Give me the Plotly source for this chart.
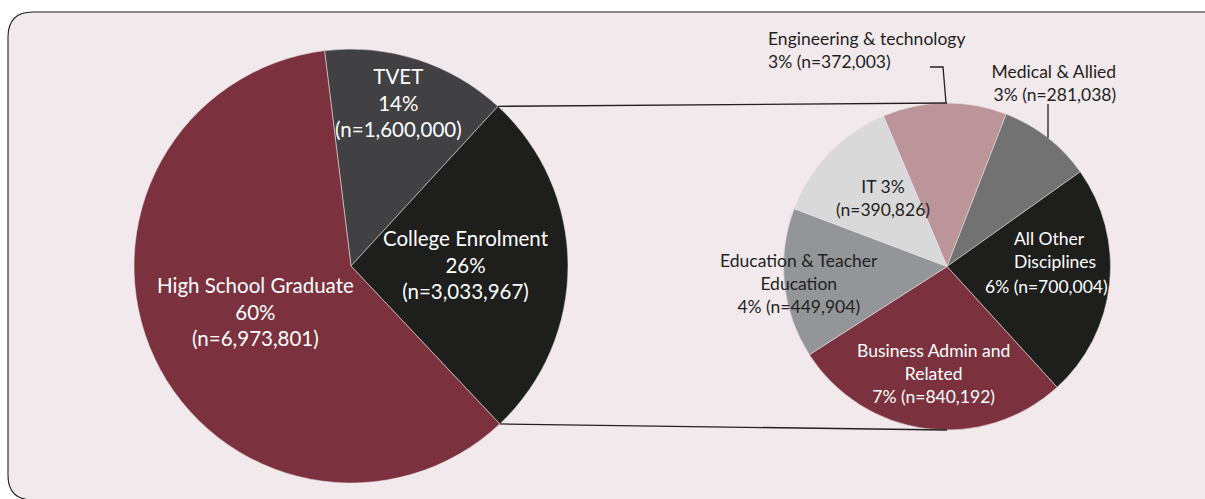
import math
import plotly.graph_objects as go

W, H = 1205, 499

# Overall pathway split
main_labels = ["TVET", "College Enrolment", "High School Graduate"]
main_values = [1600000, 3033967, 6973801]
main_pcts = ["14%", "26%", "60%"]
main_colors = ["#414042", "#1e1e1c", "#7b323e"]

# Breakdown of college enrolment by discipline
sub_labels = ["Engineering & technology", "Medical & Allied", "All Other Disciplines",
              "Business Admin and Related", "Education & Teacher Education", "IT"]
sub_values = [372003, 281038, 700004, 840192, 449904, 390826]
sub_pcts = ["3%", "3%", "6%", "7%", "4%", "3%"]
sub_colors = ["#bc959b", "#727272", "#1e1e1c", "#7b323e", "#939598", "#d9d9d9"]

FONT = "Lato"
DARK = "#231f20"
BIG = 20.5
SMALL = 17.5

# Pie geometry in pixels (centre and radius)
L_CX, L_CY, L_R = 351, 266, 217
R_CX, R_CY, R_R = 947, 266.5, 163.5
L_ROT = -7
R_ROT = -22.9


def px(x):
    return x / W


def py(y):
    return 1 - y / H


def domain(cx, cy, r):
    return dict(x=[px(cx - r), px(cx + r)], y=[py(cy + r), py(cy - r)])


def edge_point(cx, cy, r, ang):
    a = math.radians(ang)
    return cx + r * math.sin(a), cy - r * math.cos(a)


fig = go.Figure()

fig.add_trace(go.Pie(
    labels=main_labels, values=main_values, sort=False, direction="clockwise",
    rotation=L_ROT, textinfo="none", hoverinfo="label+value",
    marker=dict(colors=main_colors, line=dict(color="rgba(235,225,230,0.7)", width=0.8)),
    domain=domain(L_CX, L_CY, L_R), showlegend=False,
))

fig.add_trace(go.Pie(
    labels=sub_labels, values=sub_values, sort=False, direction="clockwise",
    rotation=R_ROT, textinfo="none", hoverinfo="label+value",
    marker=dict(colors=sub_colors, line=dict(color="rgba(235,225,230,0.7)", width=0.8)),
    domain=domain(R_CX, R_CY, R_R), showlegend=False,
))

# Rounded panel behind everything
x0, y0, x1, y1, rr = 8, 12, 1230, 500, 25
panel = (f"M {px(x0 + rr)},{py(y0)} L {px(x1)},{py(y0)} L {px(x1)},{py(y1)} "
         f"L {px(x0 + rr)},{py(y1)} Q {px(x0)},{py(y1)} {px(x0)},{py(y1 - rr)} "
         f"L {px(x0)},{py(y0 + rr)} Q {px(x0)},{py(y0)} {px(x0 + rr)},{py(y0)} Z")
shapes = [dict(type="path", path=panel, xref="paper", yref="paper",
               fillcolor="#f2e9ed", line=dict(color=DARK, width=1.1), layer="below")]

# Connector lines from the college slice edges to the breakdown pie
total = sum(main_values)
a_start = L_ROT + 360 * main_values[0] / total
a_end = a_start + 360 * main_values[1] / total
p1 = edge_point(L_CX, L_CY, L_R, a_start)
p2 = edge_point(L_CX, L_CY, L_R, a_end)
q1 = (R_CX, R_CY - R_R)
q2 = (R_CX, R_CY + R_R)
for a, b in [(p1, q1), (p2, q2)]:
    shapes.append(dict(type="line", xref="paper", yref="paper",
                       x0=px(a[0]), y0=py(a[1]), x1=px(b[0]), y1=py(b[1]),
                       line=dict(color=DARK, width=1.3)))

# Leader lines for the two small slices
shapes.append(dict(type="path", xref="paper", yref="paper",
                   path=f"M {px(930)},{py(67)} L {px(943)},{py(67)} L {px(946)},{py(103)}",
                   line=dict(color=DARK, width=1.3)))
med_x = 1048
med_y_end = R_CY - math.sqrt(R_R ** 2 - (med_x - R_CX) ** 2)
shapes.append(dict(type="line", xref="paper", yref="paper",
                   x0=px(med_x), y0=py(104), x1=px(med_x), y1=py(med_y_end),
                   line=dict(color=DARK, width=1.3)))

fig.update_layout(shapes=shapes)


def fmt(n):
    return f"(n={n:,})"


def note(text, x, y, color, size, xanchor="center", align="center"):
    fig.add_annotation(text=text, x=px(x), y=py(y), xref="paper", yref="paper",
                       xanchor=xanchor, yanchor="middle", align=align, showarrow=False,
                       font=dict(family=FONT, size=size, color=color))


# Main pie labels
note(f"{main_labels[0]}<br>{main_pcts[0]}<br>{fmt(main_values[0])}", 398, 103, "white", BIG)
note(f"{main_labels[1]}<br>{main_pcts[1]}<br>{fmt(main_values[1])}", 466, 264, "white", BIG)
note(f"{main_labels[2]}<br>{main_pcts[2]}<br>{fmt(main_values[2])}", 255, 311, "white", BIG)

# Breakdown labels
note(f"{sub_labels[0]}<br>{sub_pcts[0]} {fmt(sub_values[0])}", 766, 50, DARK, SMALL,
     xanchor="left", align="left")
note(f"{sub_labels[1]}<br> {sub_pcts[1]} {fmt(sub_values[1])}", 1118, 83, DARK, SMALL,
     xanchor="right", align="right")
note("All Other<br>Disciplines", 1012, 250, "white", SMALL, xanchor="left", align="left")
note(f"{sub_pcts[2]} {fmt(sub_values[2])}", 983, 286, "white", SMALL, xanchor="left")
note(f"Business Admin and<br>Related<br>{sub_pcts[3]} {fmt(sub_values[3])}", 933, 373, "white", SMALL)
note(f"Education & Teacher<br>Education<br>{sub_pcts[4]} {fmt(sub_values[4])}", 799, 283, DARK, SMALL)
note(f"{sub_labels[5]} {sub_pcts[5]}<br>{fmt(sub_values[5])}", 883, 198, DARK, SMALL)

fig.update_layout(
    width=W, height=H, margin=dict(l=0, r=0, t=0, b=0),
    paper_bgcolor="white", plot_bgcolor="rgba(0,0,0,0)",
    xaxis=dict(visible=False), yaxis=dict(visible=False),
)

fig.write_html("out.html")
